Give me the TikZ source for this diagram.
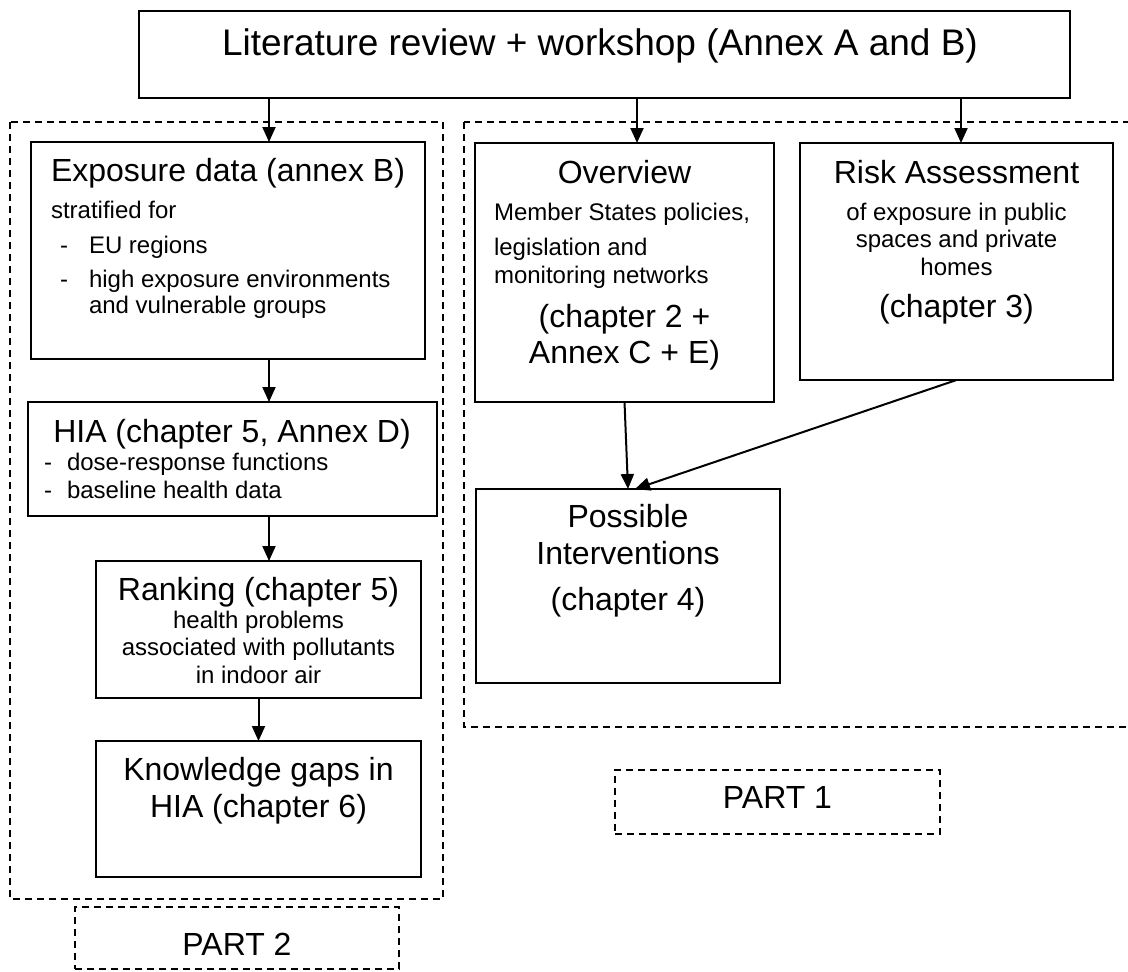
\documentclass[tikz,border=0pt]{standalone}
\usepackage{fontspec}
\setmainfont{Liberation Sans}
\usetikzlibrary{arrows.meta}

\newcommand{\headsize}{\fontsize{18.5}{22}\selectfont}
\newcommand{\titlesize}{\fontsize{16}{18.5}\selectfont}
\newcommand{\notesize}{\fontsize{12}{13.75}\selectfont}

\tikzset{
  box/.style={draw, anchor=north west, inner sep=0pt, outer sep=0pt},
  frame/.style={dash pattern=on 3.5pt off 2.5pt},
  txt/.style={inner sep=0pt, anchor=base},
  ltxt/.style={inner sep=0pt, anchor=base west, font=\notesize},
}

\begin{document}
\begin{tikzpicture}[x=0.5pt, y=-0.5pt, line width=1pt, >={Triangle[length=7.5pt,width=6.5pt]}]
\useasboundingbox (0,0) rectangle (1128,971);
% the two parts
\draw[frame] (10,122) rectangle (443,899);
\draw[frame] (464,122) rectangle (1140,727);

% boxes
\path (139,11) node[box, minimum width=465.5pt, minimum height=43.5pt] (top) {};
\path (31,142) node[box, minimum width=197pt, minimum height=108.5pt] (expo) {};
\path (28,402) node[box, minimum width=204.5pt, minimum height=57pt] (hia) {};
\path (96,561) node[box, minimum width=162.5pt, minimum height=68.5pt] (rank) {};
\path (96,741) node[box, minimum width=162.5pt, minimum height=68pt] (gaps) {};
\path (75,907) node[box, frame, minimum width=162pt, minimum height=31pt] (part2) {};
\path (475,143) node[box, minimum width=149.5pt, minimum height=129.5pt] (over) {};
\path (800,143) node[box, minimum width=156.5pt, minimum height=118.5pt] (risk) {};
\path (476,489) node[box, minimum width=152pt, minimum height=97pt] (poss) {};
\path (615,770) node[box, frame, minimum width=162.5pt, minimum height=32pt] (part1) {};

% texts (multi-line ones sit on their last line)
\path (600,55) node[txt, font=\headsize] (topT) {Literature review + workshop (Annex A and B)};

\path (228,181) node[txt, font=\titlesize] (expoT) {Exposure data (annex B)};
\path (50,218) node[ltxt] (expoS) {stratified for};
\path (59,253) node[ltxt] (expoD1) {-};
\path (88,253) node[ltxt] (expoI1) {EU regions};
\path (59,287) node[ltxt] (expoD2) {-};
\path (88,287) node[ltxt] (expoI2) {high exposure environments};
\path (88,313) node[ltxt] (expoI3) {and vulnerable groups};

\path (232,442) node[txt, font=\titlesize] (hiaT) {HIA (chapter 5, Annex D)};
\path (43,470) node[ltxt] (hiaD1) {-};
\path (66,470) node[ltxt] (hiaI1) {dose-response functions};
\path (43,498) node[ltxt] (hiaD2) {-};
\path (66,498) node[ltxt] (hiaI2) {baseline health data};

\path (258.5,600) node[txt, font=\titlesize] (rankT) {Ranking (chapter 5)};
\path (258.5,683) node[txt, font=\notesize, align=center] (rankS) {health problems\\associated with pollutants\\in indoor air};

\path (258.5,817) node[txt, font=\titlesize, align=center] (gapsT) {Knowledge gaps in\\HIA (chapter 6)};
\path (237,955) node[txt, font=\titlesize] (part2T) {PART 2};

\path (624.5,183) node[txt, font=\titlesize] (overT) {Overview};
\path (493,220) node[ltxt] (overS1) {Member States policies,};
\path (493,255) node[ltxt] (overS2) {legislation and};
\path (493,283) node[ltxt] (overS3) {monitoring networks};
\path (624.5,327) node[txt, font=\titlesize] (overC1) {(chapter 2 +};
\path (624.5,363) node[txt, font=\titlesize] (overC2) {Annex C + E)};

\path (956.5,183) node[txt, font=\titlesize] (riskT) {Risk Assessment};
\path (956.5,275) node[txt, font=\notesize, align=center] (riskS) {of exposure in public\\spaces and private\\homes};
\path (956.5,317) node[txt, font=\titlesize] (riskC) {(chapter 3)};

\path (628,564) node[txt, font=\titlesize, align=center] (possT) {Possible\\Interventions};
\path (628,610) node[txt, font=\titlesize] (possC) {(chapter 4)};
\path (777.5,808) node[txt, font=\titlesize] (part1T) {PART 1};

% arrows
\draw[->] (top.south -| 269,0) -- (expo.north -| 269,0);
\draw[->] (top.south -| 637,0) -- (over.north -| 637,0);
\draw[->] (top.south -| 961,0) -- (risk.north -| 961,0);
\draw[->] (expo.south -| 269,0) -- (hia.north -| 269,0);
\draw[->] (hia.south -| 269,0) -- (rank.north -| 269,0);
\draw[->] (rank.south) -- (gaps.north);
\draw[->] (over.south) -- (poss.north);
\draw[->] (risk.south) -- ([xshift=3.5pt]poss.north);
\end{tikzpicture}
\end{document}
